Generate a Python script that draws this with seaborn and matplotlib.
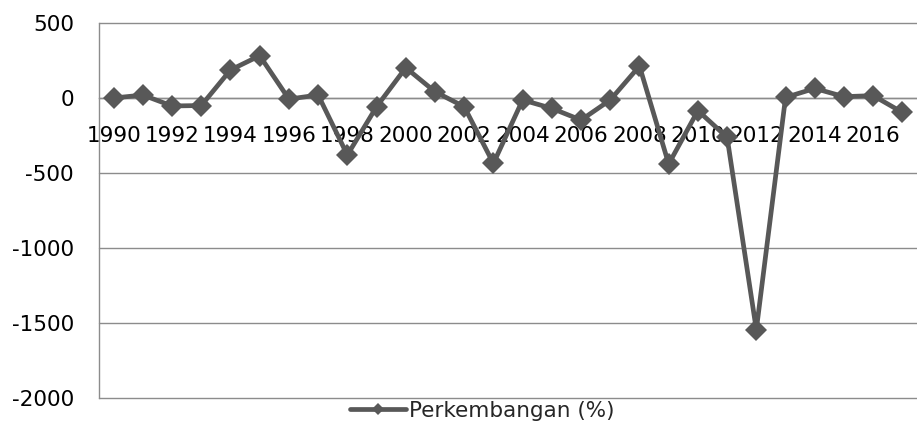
import matplotlib
matplotlib.use("Agg")
import matplotlib.pyplot as plt
import seaborn as sns
import pandas as pd

# Données
tahun = list(range(1990, 2018))
perkembangan = [0, 20, -53, -50, 187, 282, -7, 20, -380, -58,
                202, 42, -58, -436, -13, -69, -147, -13, 213, -440,
                -84, -262, -1545, 4, 64, 9, 16, -96]
yticks = [500, 0, -500, -1000, -1500, -2000]
xticks = list(range(1990, 2017, 2))

df = pd.DataFrame({"Tahun": tahun, "Perkembangan (%)": perkembangan})

sns.set_style("white")
plt.rcParams["font.family"] = ["DejaVu Sans"]

fig = plt.figure(figsize=(9.17, 4.23), dpi=100)
ax = fig.add_axes([0.108, 0.059, 0.892, 0.8866])

grid_col = "#8c8c8c"
for y in yticks:
    ax.axhline(y, color=grid_col, lw=1.0, zorder=1, clip_on=False)

sns.lineplot(data=df, x="Tahun", y="Perkembangan (%)", ax=ax,
             color="#585858", linewidth=3.4, marker="D", markersize=11,
             markeredgewidth=0, label="Perkembangan (%)", zorder=3)

ax.set_xlim(1989.5, 2017.5)
ax.set_ylim(-2000, 500)
ax.set_yticks(yticks)
ax.set_yticklabels([str(v) for v in yticks])
ax.set_xticks(xticks)
ax.set_xticklabels([str(v) for v in xticks])
ax.set_xlabel("")
ax.set_ylabel("")

ax.spines["top"].set_visible(False)
ax.spines["right"].set_visible(False)
ax.spines["bottom"].set_position(("data", 0))
ax.spines["bottom"].set_color(grid_col)
ax.spines["bottom"].set_linewidth(1.0)
ax.spines["left"].set_color(grid_col)
ax.spines["left"].set_linewidth(1.0)

ax.tick_params(axis="x", length=0, pad=20, labelsize=15.5, colors="black")
ax.tick_params(axis="y", length=0, pad=18, labelsize=15.5, colors="black")

ax.get_legend().remove()
handles, labels = ax.get_legend_handles_labels()
fig.legend(handles, labels, loc="lower center", bbox_to_anchor=(0.526, -0.04),
           frameon=False, fontsize=15.5, handlelength=2.6, handletextpad=0.15,
           markerscale=0.6)

fig.savefig("out.png", dpi=100)
